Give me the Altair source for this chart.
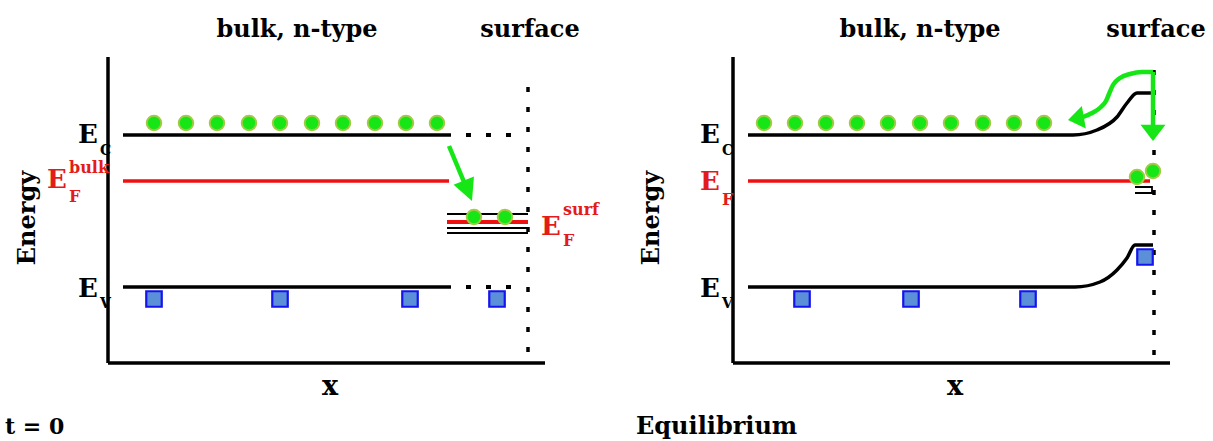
import altair as alt
import pandas as pd

W, H = 1213, 441
FONT = "DejaVu Serif"
GREEN = "#16e616"
RED = "#ee1111"
TXT_RED = "#e41b1b"

# ---- band levels (layout units, y grows downward) ----
E_C, E_F, E_V = 135, 181, 287

# ---- panel frames ----
axis_x = [108, 733]
axis_end = [545, 1170]
axis_top, axis_bottom = 57, 363
surface_x = [528, 1154]
dots_top = [87, 70]
dots_bottom = 357

# ---- t = 0 panel ----
left_band_x = [123, 451]
left_fermi_x = [123, 449]
left_ext_x = [466, 513]
surf_state_x = [447, 528]
surf_states_y = [214, 228, 233]
surf_fermi_y = 222
left_e_x = [154, 186, 217, 249, 280, 312, 343, 375, 406, 437]
bulk_e_y = 123
left_se_x = [474, 505]
left_se_y = 217
left_h_x = [154, 280, 410, 497]
bulk_h_y = 299

# ---- equilibrium panel ----
right_ec_x = [748, 1073, 1097, 1117, 1127, 1137, 1151]
right_ec_y = [135, 135, 130, 117, 103, 93, 93]
right_ev_x = [748, 1075, 1100, 1117, 1127, 1135, 1153]
right_ev_y = [287, 287, 282, 270, 258, 245, 245]
right_fermi_x = [748, 1150]
right_e_x = [764, 795, 826, 857, 888, 920, 951, 983, 1014, 1044]
right_se_x = [1137, 1153]
right_se_y = [177, 171]
right_h_x = [802, 911, 1028]
right_sh_x, right_sh_y = [1145], [257]
trap_x = [1135, 1152, 1152, 1135]
trap_y = [187, 187, 193, 193]

# ---- arrows ----
left_shaft = (449, 146, 464, 182)
left_tip = (472, 201)
down_shaft = (1153, 72, 1153, 128)
down_tip = (1153, 141)
curve_x = [1083, 1092, 1101, 1106, 1109, 1113, 1120, 1130, 1142, 1153]
curve_y = [117, 113, 107, 101, 94, 85, 78, 74, 72, 72]
curve_tip = (1068, 120)

xs = alt.Scale(domain=[0, W], range=[0, W])
ys = alt.Scale(domain=[0, H], range=[0, H])


def X(f="x"):
    return alt.X(f"{f}:Q", scale=xs, axis=None)


def Y(f="y"):
    return alt.Y(f"{f}:Q", scale=ys, axis=None)


def segments(rows, **kw):
    df = pd.DataFrame(rows, columns=["x", "y", "x2", "y2"])
    return alt.Chart(df).mark_rule(**kw).encode(x=X(), y=Y(), x2="x2:Q", y2="y2:Q")


def polyline(xv, yv, **kw):
    df = pd.DataFrame({"x": xv, "y": yv, "i": range(len(xv))})
    return alt.Chart(df).mark_line(**kw).encode(x=X(), y=Y(), order="i:Q")


def points(xv, yv, **kw):
    df = pd.DataFrame({"x": xv, "y": yv})
    return alt.Chart(df).mark_point(**kw).encode(x=X(), y=Y())


def head(tip, angle, size, path):
    df = pd.DataFrame({"x": [tip[0]], "y": [tip[1]]})
    return alt.Chart(df).mark_point(
        shape=path, filled=True, fill=GREEN, stroke=None, opacity=1,
        size=size, angle=angle,
    ).encode(x=X(), y=Y())


def texts(rows, **kw):
    df = pd.DataFrame(rows, columns=["x", "y", "t"])
    return alt.Chart(df).mark_text(font=FONT, fontWeight="bold", baseline="alphabetic", **kw).encode(
        x=X(), y=Y(), text="t:N"
    )


layers = []

# axes
axes_rows = []
for ax, end in zip(axis_x, axis_end):
    axes_rows.append((ax, axis_top, ax, axis_bottom))
    axes_rows.append((ax, axis_bottom, end, axis_bottom))
layers.append(segments(axes_rows, color="black", strokeWidth=3.5))

# dotted surface boundaries
layers.append(segments(
    [(sx, top, sx, dots_bottom) for sx, top in zip(surface_x, dots_top)],
    color="black", strokeWidth=3.5, strokeDash=[5, 15],
))
layers.append(segments(
    [(left_ext_x[0], E_C, left_ext_x[1], E_C), (left_ext_x[0], E_V, left_ext_x[1], E_V)],
    color="black", strokeWidth=4, strokeDash=[5, 15],
))

# bulk bands, t = 0
layers.append(segments(
    [(left_band_x[0], E_C, left_band_x[1], E_C), (left_band_x[0], E_V, left_band_x[1], E_V)],
    color="black", strokeWidth=3.5,
))
layers.append(segments(
    [(left_fermi_x[0], E_F, left_fermi_x[1], E_F), (right_fermi_x[0], E_F, right_fermi_x[1], E_F)],
    color=RED, strokeWidth=3.5,
))

# surface states, t = 0
layers.append(segments(
    [(surf_state_x[0], y, surf_state_x[1], y) for y in surf_states_y],
    color="black", strokeWidth=1.8,
))
layers.append(segments(
    [(surf_state_x[0], surf_fermi_y, surf_state_x[1], surf_fermi_y)],
    color=RED, strokeWidth=4,
))

# bent bands, equilibrium
layers.append(polyline(right_ec_x, right_ec_y, color="black", strokeWidth=3.5, interpolate="monotone"))
layers.append(polyline(right_ev_x, right_ev_y, color="black", strokeWidth=3.5, interpolate="monotone"))
layers.append(polyline(trap_x, trap_y, color="black", strokeWidth=1.8))

# electrons
e_style = dict(shape="circle", filled=True, fill=GREEN, stroke="#9fcb45",
               strokeWidth=2, size=210, opacity=1)
layers.append(points(left_e_x, [bulk_e_y] * len(left_e_x), **e_style))
layers.append(points(left_se_x, [left_se_y] * len(left_se_x), **e_style))
layers.append(points(right_e_x, [bulk_e_y] * len(right_e_x), **e_style))
layers.append(points(right_se_x, right_se_y, **e_style))

# holes
h_style = dict(shape="square", filled=True, fill="#5b8fd8", stroke="#1414ee",
               strokeWidth=2.2, size=240, opacity=1)
layers.append(points(left_h_x, [bulk_h_y] * len(left_h_x), **h_style))
layers.append(points(right_h_x, [bulk_h_y] * len(right_h_x), **h_style))
layers.append(points(right_sh_x, right_sh_y, **h_style))

# arrows
layers.append(segments([left_shaft, down_shaft], color=GREEN, strokeWidth=4.5))
layers.append(polyline(curve_x, curve_y, color=GREEN, strokeWidth=4.5, interpolate="monotone"))
layers.append(head(left_tip, 338, 484, "M0,0L-1,-2L1,-2Z"))
layers.append(head(down_tip, 0, 625, "M0,0L-1,-1.3L1,-1.3Z"))
layers.append(head(curve_tip, 80, 529, "M0,0L-1,-1.4L1,-1.4Z"))

# headings and captions
layers.append(texts(
    [(297, 37, "bulk, n-type"), (530, 37, "surface"), (920, 37, "bulk, n-type"), (1156, 37, "surface")],
    fontSize=24, align="center", color="black",
))
layers.append(texts([(330, 395, "x"), (955, 395, "x")], fontSize=27, align="center", color="black"))
layers.append(texts([(5, 434, "t = 0")], fontSize=22, align="left", color="black"))
layers.append(texts([(636, 434, "Equilibrium")], fontSize=24, align="left", color="black"))
layers.append(alt.Chart(pd.DataFrame({"x": [28, 652], "y": [218, 218], "t": ["Energy", "Energy"]})).mark_text(
    font=FONT, fontWeight="bold", fontSize=24, angle=270, align="center", baseline="middle", color="black"
).encode(x=X(), y=Y(), text="t:N"))

# level labels
layers.append(texts(
    [(78, 143, "E"), (78, 297, "E"), (700, 143, "E"), (700, 297, "E")],
    fontSize=26, align="left", color="black",
))
layers.append(texts(
    [(100, 155, "C"), (100, 308, "V"), (722, 155, "C"), (722, 308, "V")],
    fontSize=14, align="left", color="black",
))
layers.append(texts(
    [(47, 188, "E"), (700, 190, "E"), (541, 235, "E")],
    fontSize=26, align="left", color=TXT_RED,
))
layers.append(texts(
    [(69, 173, "bulk"), (69, 202, "F"), (722, 205, "F"), (563, 215, "surf"), (563, 246, "F")],
    fontSize=16, align="left", color=TXT_RED,
))

chart = alt.layer(*layers).properties(
    width=W, height=H, padding=0, autosize=alt.AutoSizeParams(type="none"), background="white"
).configure_view(stroke=None)

chart.save("out.html", embed_options={"renderer": "svg", "actions": False})
